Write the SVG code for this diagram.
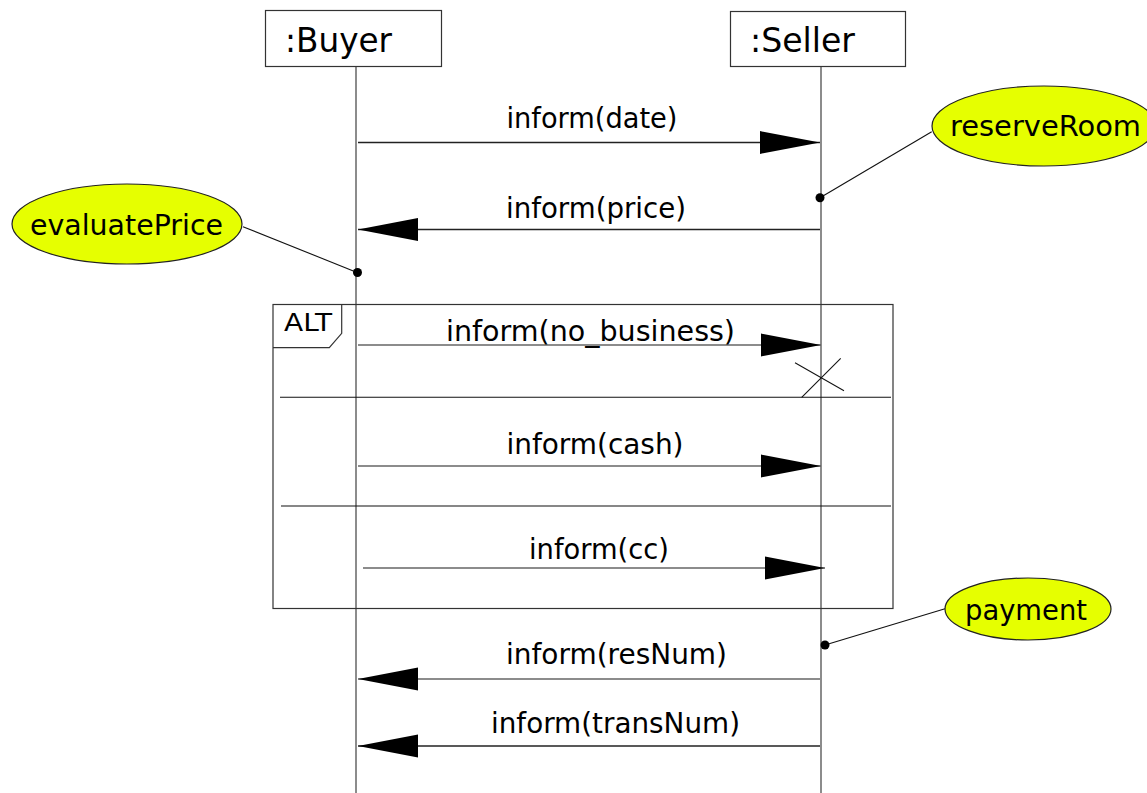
<svg xmlns="http://www.w3.org/2000/svg" width="1147" height="793" viewBox="0 0 1147 793">
<style>
text{font-family:"DejaVu Sans","Liberation Sans",sans-serif;fill:#000}
.hdr{font-size:33px}
.msg{font-size:29px;text-anchor:middle}
.note{font-size:28px;text-anchor:middle}
.box{fill:#fff;stroke:#333;stroke-width:1.2}
.life{stroke:#666;stroke-width:1.5;fill:none}
.m{stroke:#222;stroke-width:1.3;fill:none;marker-end:url(#ah)}
.mg{stroke:#666;stroke-width:1.5;fill:none;marker-end:url(#ah)}
.ell{fill:#e6ff00;stroke:#222;stroke-width:1.2}
.thin{stroke:#111;stroke-width:1.1;fill:none}
</style>
<defs>
<marker id="ah" markerUnits="userSpaceOnUse" markerWidth="60" markerHeight="24" viewBox="0 0 58 22" refX="58" refY="11" orient="auto">
<path d="M0,0 L58,11 L0,22 z" fill="#000"/>
</marker>
</defs>
<rect width="1147" height="793" fill="#fff"/>
<g id="buyer">
<line class="life" x1="356" y1="66" x2="356" y2="793"/>
<rect class="box" x="265.5" y="10.5" width="176" height="56"/>
<text class="hdr" x="285" y="52" textLength="107" lengthAdjust="spacingAndGlyphs">:Buyer</text>
</g>
<g id="seller">
<line class="life" x1="821" y1="66" x2="821" y2="793"/>
<rect class="box" x="730.5" y="11.5" width="175" height="55"/>
<text class="hdr" x="750" y="52" textLength="105" lengthAdjust="spacingAndGlyphs">:Seller</text>
</g>
<g id="alt">
<rect x="273" y="304.5" width="620" height="304" fill="none" stroke="#333" stroke-width="1.2"/>
<path d="M273,347.7 H329.3 L341.7,333.3 V304.5" fill="none" stroke="#333" stroke-width="1.2"/>
<text x="284" y="331" style="font-size:24px" textLength="48" lengthAdjust="spacingAndGlyphs">ALT</text>
<line class="thin" x1="280" y1="397.3" x2="891" y2="397.3"/>
<line class="thin" x1="281" y1="506" x2="891" y2="506"/>
<line class="thin" x1="795" y1="362.7" x2="844" y2="390.7"/>
<line class="thin" x1="840.7" y1="358.3" x2="801.7" y2="397.3"/>
</g>
<g id="connectors">
<line class="m" x1="358" y1="142.5" x2="820" y2="142.5"/>
<line class="m" x1="820" y1="229.5" x2="358" y2="229.5"/>
<line class="mg" x1="358" y1="345" x2="821" y2="345"/>
<line class="mg" x1="358" y1="466" x2="821" y2="466"/>
<line class="mg" x1="363" y1="568" x2="825" y2="568"/>
<line class="mg" x1="820" y1="679" x2="358" y2="679"/>
<line class="m" x1="820" y1="746" x2="358" y2="746"/>
<line class="thin" x1="931.7" y1="131.7" x2="820" y2="197.7"/>
<line class="thin" x1="243" y1="226.7" x2="357.7" y2="272.7"/>
<line class="thin" x1="945" y1="608.7" x2="825" y2="645"/>
<circle cx="820" cy="197.7" r="4.5"/>
<circle cx="357.5" cy="272.5" r="4.5"/>
<circle cx="825" cy="645" r="4.5"/>
</g>
<g id="labels">
<text class="msg" x="592" y="128" textLength="171" lengthAdjust="spacingAndGlyphs">inform(date)</text>
<text class="msg" x="596" y="218" textLength="180" lengthAdjust="spacingAndGlyphs">inform(price)</text>
<text class="msg" x="590.5" y="341" textLength="289" lengthAdjust="spacingAndGlyphs">inform(no_business)</text>
<text class="msg" x="595" y="454" textLength="177" lengthAdjust="spacingAndGlyphs">inform(cash)</text>
<text class="msg" x="599" y="559" textLength="140" lengthAdjust="spacingAndGlyphs">inform(cc)</text>
<text class="msg" x="616.5" y="664" textLength="221" lengthAdjust="spacingAndGlyphs">inform(resNum)</text>
<text class="msg" x="615.5" y="733" textLength="249" lengthAdjust="spacingAndGlyphs">inform(transNum)</text>
</g>
<g id="reserveRoom">
<ellipse class="ell" cx="1044" cy="126" rx="112" ry="40"/>
<text class="note" x="1045.5" y="136" textLength="191" lengthAdjust="spacingAndGlyphs">reserveRoom</text>
</g>
<g id="evaluatePrice">
<ellipse class="ell" cx="127" cy="224" rx="115" ry="40"/>
<text class="note" x="126.5" y="235" textLength="193" lengthAdjust="spacingAndGlyphs">evaluatePrice</text>
</g>
<g id="payment">
<ellipse class="ell" cx="1028" cy="609" rx="83" ry="31"/>
<text class="note" x="1026" y="620" textLength="122" lengthAdjust="spacingAndGlyphs">payment</text>
</g>
</svg>
